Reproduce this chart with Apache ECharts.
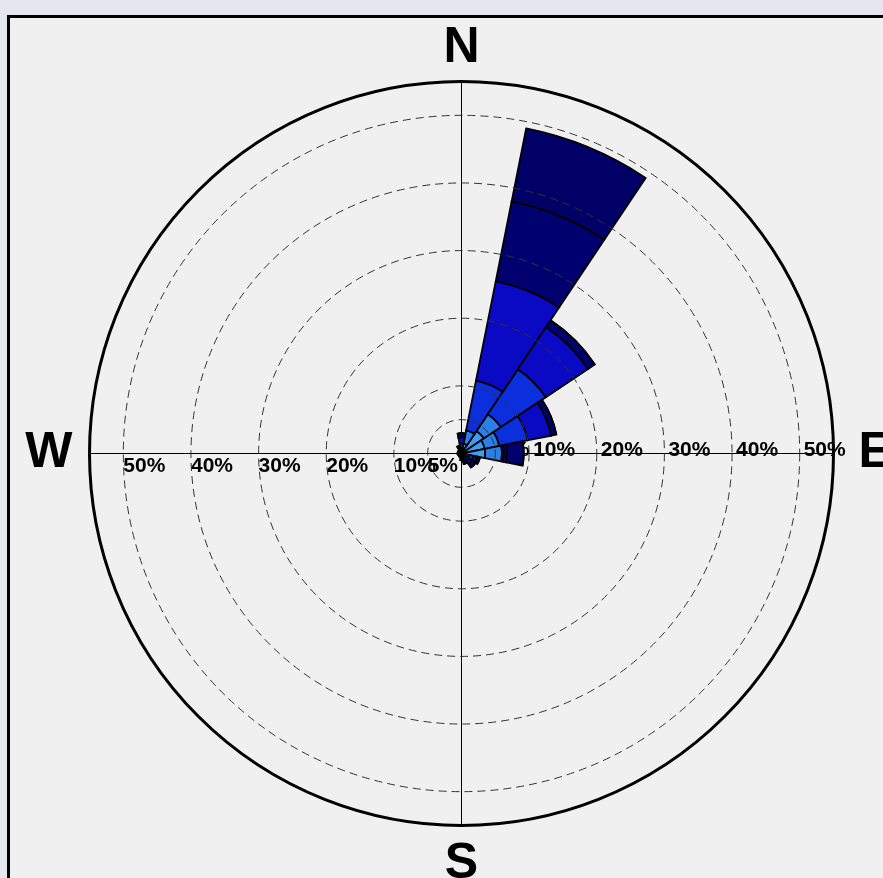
<!DOCTYPE html>
<html>
<head>
<meta charset="utf-8">
<script src="https://cdn.jsdelivr.net/npm/echarts@6/dist/echarts.min.js"></script>
<style>
    html, body { margin: 0; padding: 0; background: #e6e6f0; overflow: hidden; }
    #panel { position: absolute; left: 7px; top: 15px; width: 900px; height: 900px; border: 3px solid #000; background: #f0f0f0; }
    #chart { position: absolute; left: 0; top: 0; width: 883px; height: 878px; }
</style>
</head>
<body>
<div id="panel"></div>
<div id="chart"></div>
<script>
// 16 directions, clockwise from north
var directions = ['N', 'NNE', 'NE', 'ENE', 'E', 'ESE', 'SE', 'SSE', 'S', 'SSW', 'SW', 'WSW', 'W', 'WNW', 'NW', 'NNW'];

// frequency (%) per speed class, light -> dark
var bin1 = [0.3, 1.5, 4.0, 3.5, 3.5, 0.6, 0.3, 0.2, 0.1, 0.1, 0.1, 0.1, 0.1, 0.1, 0.1, 0.2];
var bin2 = [0.4, 2.0, 3.0, 2.2, 2.5, 0.6, 0.4, 0.3, 0.2, 0.1, 0.1, 0.1, 0.1, 0.1, 0.1, 0.2];
var bin3 = [0.8, 7.5, 8.0, 4.3, 0.3, 0.6, 0.6, 0.4, 0.3, 0.2, 0.1, 0.1, 0.2, 0.1, 0.2, 0.3];
var bin4 = [0.9, 15.0, 7.5, 3.5, 0.4, 0.5, 0.6, 0.4, 0.2, 0.1, 0.1, 0.1, 0.1, 0.1, 0.1, 0.3];
var bin5 = [0.6, 12.0, 1.2, 0.8, 2.5, 0.5, 0.6, 0.3, 0.2, 0.1, 0.1, 0.1, 0.1, 0.1, 0.1, 0.2];
var bin6 = [0, 11.0, 0, 0, 0, 0, 0, 0, 0, 0, 0, 0, 0, 0, 0, 0];

var bins = [bin1, bin2, bin3, bin4, bin5, bin6];
var binColors = ['#3d9df2', '#2b7fe8', '#0b2fdc', '#0a0ac4', '#00006e', '#000066'];

var ringLabels = [5, 10, 20, 30, 40, 50];
var compassAngles = [0, 90, 180, 270];
var compassLetters = ['E', 'N', 'W', 'S'];

var center = [461.5, 453.5];
var radius = 372;
var rMax = 55;

var ringColors = [];
for (var v = 0; v <= rMax; v += 5) {
    ringColors.push(ringLabels.indexOf(v) >= 0 ? '#333' : 'rgba(0,0,0,0)');
}

function ringText(v) {
    return ringLabels.indexOf(v) >= 0 ? v + '%' : '';
}

var labelFont = {
    color: '#000',
    fontFamily: 'Liberation Sans',
    fontWeight: 'bold',
    fontSize: 21
};

var letterFont = {
    color: '#000',
    fontFamily: 'Liberation Sans',
    fontWeight: 'bold',
    fontSize: 50
};

var chart = echarts.init(document.getElementById('chart'));

var series = bins.map(function (data, i) {
    return {
        type: 'bar',
        coordinateSystem: 'polar',
        polarIndex: 0,
        stack: 'rose',
        barCategoryGap: '0%',
        data: data,
        itemStyle: { color: binColors[i], borderColor: '#000', borderWidth: 1.8 },
        silent: true
    };
});

var option = {
    animation: false,
    polar: [
        { center: center, radius: radius },
        { center: center, radius: radius },
        { center: center, radius: radius }
    ],
    angleAxis: [
        {
            polarIndex: 0,
            type: 'category',
            data: directions,
            startAngle: 101.25,
            clockwise: true,
            axisLine: { show: false },
            axisTick: { show: false },
            axisLabel: { show: false },
            splitLine: { show: false }
        },
        {
            polarIndex: 1,
            type: 'value',
            min: 0,
            max: 360,
            interval: 90,
            startAngle: 0,
            clockwise: false,
            axisLine: { show: true, lineStyle: { color: '#000', width: 3 } },
            axisTick: { show: false },
            axisLabel: {
                margin: 8,
                formatter: function (v) {
                    var k = compassAngles.indexOf(v);
                    return k >= 0 ? '{' + compassLetters[k] + '|' + compassLetters[k] + '}' : '';
                },
                rich: {
                    E: Object.assign({ padding: [0, 0, 0, 17] }, letterFont),
                    N: Object.assign({ padding: [0, 0, 0, 0] }, letterFont),
                    W: Object.assign({ padding: [0, 9, 0, 0] }, letterFont),
                    S: Object.assign({ padding: [6, 0, 0, 0] }, letterFont)
                }
            },
            splitLine: { show: true, lineStyle: { color: '#000', width: 1 } }
        },
        {
            polarIndex: 2,
            type: 'value',
            min: 0,
            max: 360,
            startAngle: 180,
            show: false
        }
    ],
    radiusAxis: [
        {
            polarIndex: 0,
            min: 0,
            max: rMax,
            interval: 5,
            z: 5,
            axisLine: { show: false },
            axisTick: { show: false },
            axisLabel: { show: false },
            splitLine: { show: true, lineStyle: { color: ringColors, width: 1, type: [8, 5] } }
        },
        {
            polarIndex: 1,
            min: 0,
            max: rMax,
            interval: 5,
            axisLine: { show: false },
            axisTick: { show: false },
            splitLine: { show: false },
            axisLabel: Object.assign({
                margin: 3,
                align: 'left',
                verticalAlign: 'middle',
                padding: [0, 0, 0, 4],
                formatter: ringText
            }, labelFont)
        },
        {
            polarIndex: 2,
            min: 0,
            max: rMax,
            interval: 5,
            axisLine: { show: false },
            axisTick: { show: false },
            splitLine: { show: false },
            axisLabel: Object.assign({
                margin: 2,
                align: 'left',
                verticalAlign: 'top',
                formatter: ringText
            }, labelFont)
        }
    ],
    series: series
};

chart.setOption(option);
</script>
</body>
</html>
